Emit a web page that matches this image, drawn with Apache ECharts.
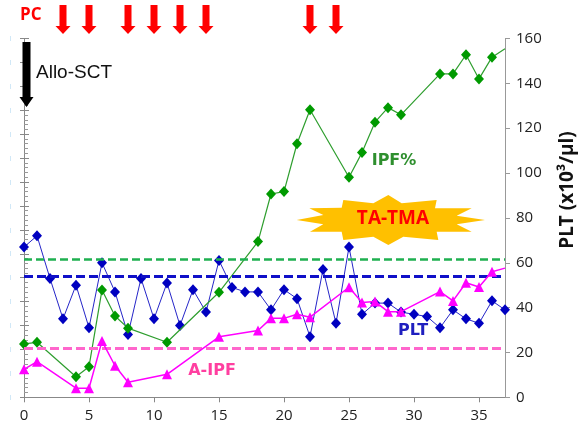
<!DOCTYPE html>
<html><head><meta charset="utf-8">
<script src="https://cdn.jsdelivr.net/npm/echarts@6/dist/echarts.min.js"></script>
<style>html,body{margin:0;padding:0;background:#fff}#c{width:585px;height:424px}</style>
</head><body><div id="c"></div>
<script>
// PLT (x10^3/ul), right axis
const pltDays = [0,1,2,3,4,5,6,7,8,9,10,11,12,13,14,15,16,17,18,19,20,21,22,23,24,25,26,27,28,29,30,31,32,33,34,35,36,37];
const pltValues = [67,72,53,35,50,31,60,47,28,53,35,51,32,48,38,61,49,47,47,39,48,44,27,57,33,67,37,42,42,38,37,36,31,39,35,33,43,39];
// IPF% and A-IPF, left axis (0-15)
const ipfDays = [0,1,4,5,6,7,8,11,15,18,19,20,21,22,25,26,27,28,29,32,33,34,35,36,37];
const ipfValues = [2.23,2.30,0.86,1.28,4.49,3.40,2.89,2.30,4.39,6.51,8.50,8.60,10.60,12.02,9.20,10.23,11.50,12.11,11.81,13.52,13.52,14.32,13.31,14.22,14.57];
const aipfValues = [1.17,1.49,0.38,0.38,2.35,1.32,0.63,0.96,2.53,2.79,3.30,3.30,3.47,3.35,4.60,3.96,4.00,3.58,3.58,4.42,4.03,4.79,4.61,5.25,5.40];
// reference lines
const pltRef = 54.1;      // right axis
const ipfRef = 5.79;      // left axis
const aipfRef = 2.05;     // left axis
// PC days (red arrows)
const pcDays = [3,5,8,10,12,14,22,24];
const xTicks = [0,5,10,15,20,25,30,35];
const rightTicks = [0,20,40,60,80,100,120,140,160];

function pairs(days, vals, lastNoSymbol){
  return days.map((d,i)=>{
    const it = {value:[d, vals[i]]};
    if (lastNoSymbol && i === days.length-1) it.symbol = 'none';
    return it;
  });
}

const chart = echarts.init(document.getElementById('c'), null, {renderer:'canvas'});
const font = "'Open Sans', sans-serif";
chart.setOption({
  animation:false,
  backgroundColor:'#fff',
  grid:{left:24, right:80, top:38.5, bottom:26.7, containLabel:false},
  xAxis:{
    type:'value', min:0, max:37, interval:5,
    axisLine:{show:true, lineStyle:{color:'#888', width:1}},
    axisTick:{show:true, inside:false, length:5, lineStyle:{color:'#888'}},
    axisLabel:{color:'#222', fontSize:15, fontFamily:font, margin:11, showMaxLabel:false,
      formatter:v=> xTicks.indexOf(v)>=0 ? String(v) : ''},
    splitLine:{show:false}
  },
  yAxis:[
    {type:'value', position:'left', min:0, max:15, interval:1,
     axisLine:{show:true, onZero:false, lineStyle:{color:'#888', width:1}},
     axisTick:{show:true, inside:true, length:5, lineStyle:{color:'#888'}},
     minorTick:{show:true, splitNumber:5, length:4, lineStyle:{color:'#999'}},
     axisLabel:{show:true, formatter:()=>'|', color:'#a8d4f0', fontSize:6, margin:13},
     splitLine:{show:false}},
    {type:'value', position:'right', min:0, max:160, interval:20,
     axisLine:{show:true, onZero:false, lineStyle:{color:'#999', width:1}},
     axisTick:{show:true, inside:false, length:5, lineStyle:{color:'#999'}},
     axisLabel:{color:'#222', fontSize:15, fontFamily:font, margin:11},
     splitLine:{show:false}},
    {type:'value', position:'left', min:0, max:15, interval:1,
     axisLine:{show:false},
     axisTick:{show:true, inside:false, length:4, lineStyle:{color:'#888'}},
     axisLabel:{show:false}, splitLine:{show:false}}
  ],
  series:[
    {name:'PLT', type:'line', yAxisIndex:1, data:pairs(pltDays, pltValues, false),
     symbol:'diamond', symbolSize:[10,11],
     lineStyle:{color:'#2525c8', width:1}, itemStyle:{color:'#0000c0'},
     markLine:{silent:true, symbol:'none', label:{show:false},
       lineStyle:{color:'#1010c8', width:3, type:[9,4]},
       data:[{yAxis:pltRef}]}, z:3},
    {name:'IPF%', type:'line', yAxisIndex:0, data:pairs(ipfDays, ipfValues, true),
     symbol:'diamond', symbolSize:[10,11],
     lineStyle:{color:'#2e9e2e', width:1.2}, itemStyle:{color:'#009a00'},
     markLine:{silent:true, symbol:'none', label:{show:false},
       lineStyle:{color:'#1fb050', width:2.5, type:[8,4]},
       data:[{yAxis:ipfRef}]}, z:4},
    {name:'A-IPF', type:'line', yAxisIndex:0, data:pairs(ipfDays, aipfValues, true),
     symbol:'triangle', symbolSize:10,
     lineStyle:{color:'#ff00ff', width:1.5}, itemStyle:{color:'#ff00ff'},
     markLine:{silent:true, symbol:'none', label:{show:false},
       lineStyle:{color:'#ff66cc', width:3, type:[9,4]},
       data:[{yAxis:aipfRef}]}, z:5}
  ]
});

function downArrow(cx, yTop, yTip, shaftW, headW, headH, color){
  const s = shaftW/2, h = headW/2, yh = yTip - headH;
  return {type:'polygon', silent:true, z:10,
    shape:{points:[[cx-s,yTop],[cx+s,yTop],[cx+s,yh],[cx+h,yh],[cx,yTip],[cx-h,yh],[cx-s,yh]]},
    style:{fill:color}};
}
const g = [];
pcDays.forEach(d=>{
  const px = chart.convertToPixel({xAxisIndex:0}, d);
  g.push(downArrow(px, 5, 34, 7, 15, 8, '#ff0000'));
});
g.push(downArrow(26.5, 42, 107, 8, 14, 10, '#000000'));
g.push({type:'text', silent:true, z:10, style:{text:'PC', x:20, y:15, fill:'#ff0000',
  font:"bold 17px 'Open Sans', sans-serif", textAlign:'left', textVerticalAlign:'middle'}});
g.push({type:'text', silent:true, z:10, style:{text:'Allo-SCT', x:36, y:73, fill:'#111',
  font:"19px 'Liberation Sans', sans-serif", textAlign:'left', textVerticalAlign:'middle'}});
// starburst
const burst = [[20,105],[100,90],[58,70],[155,68],[160,45],[250,55],[295,30],[335,55],[440,45],[435,70],[545,70],[500,92],[585,105],[500,118],[545,140],[440,140],[445,165],[340,155],[295,180],[250,155],[160,165],[155,140],[60,140],[100,118]]
  .map(p=>[290+p[0]/3, 185+p[1]/3]);
g.push({type:'polygon', silent:true, z:8, shape:{points:burst}, style:{fill:'#ffc000'}});
g.push({type:'text', silent:true, z:9, style:{text:'TA-TMA', x:393, y:219, fill:'#ff0000',
  font:"bold 19px 'Open Sans', sans-serif", textAlign:'center', textVerticalAlign:'middle'}});
g.push({type:'text', silent:true, z:9, style:{text:'IPF%', x:394, y:161, fill:'#2e8f2e',
  font:"bold 16px 'DejaVu Sans', sans-serif", textAlign:'center', textVerticalAlign:'middle'}});
g.push({type:'text', silent:true, z:9, style:{text:'PLT', x:413, y:331, fill:'#1f1fbf',
  font:"bold 16px 'DejaVu Sans', sans-serif", textAlign:'center', textVerticalAlign:'middle'}});
g.push({type:'text', silent:true, z:9, style:{text:'A-IPF', x:212, y:371, fill:'#ff3fa0',
  font:"bold 16px 'DejaVu Sans', sans-serif", textAlign:'center', textVerticalAlign:'middle'}});
g.push({type:'text', silent:true, z:9, x:568, y:190, rotation:Math.PI/2,
  style:{text:'PLT (x10³/μl)', x:0, y:0, fill:'#111',
  font:"bold 19px 'Open Sans', sans-serif", textAlign:'center', textVerticalAlign:'middle'}});
chart.setOption({graphic:g});
</script></body></html>
